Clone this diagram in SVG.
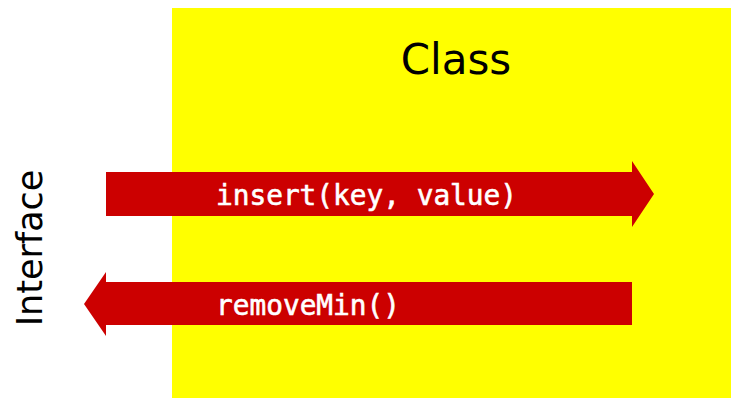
<svg xmlns="http://www.w3.org/2000/svg" width="731" height="398" viewBox="0 0 731 398">
<style>
.arrow{fill:#cc0000}
.mono{font-family:"DejaVu Sans Mono",monospace;font-size:28px;fill:#ffffff;stroke:#ffffff;stroke-width:0.6}
.sans{font-family:"DejaVu Sans",sans-serif;fill:#000000}
</style>
<rect x="0" y="0" width="731" height="398" fill="#ffffff"/>
<g id="class">
<rect x="172" y="8" width="559" height="390" fill="#ffff00"/>
<text class="sans" x="456" y="74" font-size="42" text-anchor="middle">Class</text>
</g>
<g id="interface">
<text class="sans" x="0" y="0" font-size="35" text-anchor="middle" transform="translate(42,248) rotate(-90)">Interface</text>
</g>
<g id="connectors">
<g id="insert">
<polygon class="arrow" points="106,172 632,172 632,161 654,194 632,227 632,216 106,216"/>
<text class="mono" x="216" y="205" textLength="301" lengthAdjust="spacingAndGlyphs">insert(key, value)</text>
</g>
<g id="removeMin">
<polygon class="arrow" points="632,282 632,325 106,325 106,336 84,304 106,272 106,282"/>
<text class="mono" x="216" y="315" textLength="184" lengthAdjust="spacingAndGlyphs">removeMin()</text>
</g>
</g>
</svg>
